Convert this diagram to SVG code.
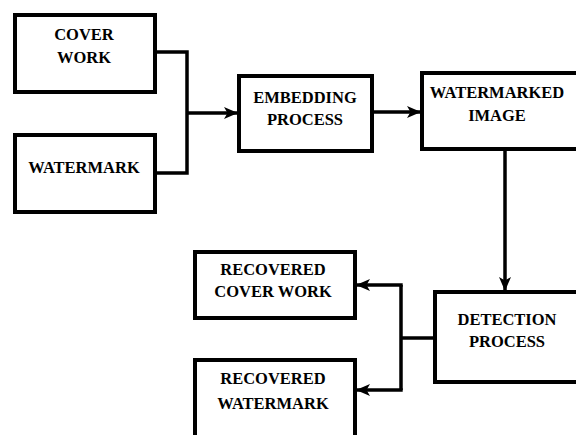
<svg xmlns="http://www.w3.org/2000/svg" width="576" height="435" viewBox="0 0 576 435">
<style>
.box{fill:#fff;stroke:#000;stroke-width:4}
.ln{fill:none;stroke:#000;stroke-width:3.5;stroke-linejoin:miter}
.t{font-family:"Liberation Serif","Times New Roman",serif;font-weight:bold;font-size:16.5px;text-anchor:middle;fill:#000}
</style>
<defs>
<marker id="ah" viewBox="0 0 14 12" refX="14" refY="6" markerWidth="14" markerHeight="12" markerUnits="userSpaceOnUse" orient="auto">
<path d="M0,0 L14,6 L0,12 L3.5,6 Z" fill="#000"/>
</marker>
</defs>
<rect width="576" height="435" fill="#fff"/>
<g id="connectors">
<polyline class="ln" points="155,52 187,52 187,173 155,173"/>
<line class="ln" x1="187" y1="113" x2="238" y2="113" marker-end="url(#ah)"/>
<line class="ln" x1="372" y1="112" x2="421" y2="112" marker-end="url(#ah)"/>
<line class="ln" x1="505" y1="149" x2="505" y2="291" marker-end="url(#ah)"/>
<polyline class="ln" points="435,338 401,338"/>
<polyline class="ln" points="401,285 401,390"/>
<line class="ln" x1="402.7" y1="285" x2="356" y2="285" marker-end="url(#ah)"/>
<line class="ln" x1="402.7" y1="390" x2="356" y2="390" marker-end="url(#ah)"/>
</g>
<g id="cover-work">
<rect class="box" x="15" y="15" width="140" height="77"/>
<text class="t" x="84" y="40">COVER</text>
<text class="t" x="84" y="63">WORK</text>
</g>
<g id="watermark">
<rect class="box" x="15" y="135" width="140" height="77"/>
<text class="t" x="84" y="173">WATERMARK</text>
</g>
<g id="embedding-process">
<rect class="box" x="239" y="76" width="133" height="75"/>
<text class="t" x="305" y="103">EMBEDDING</text>
<text class="t" x="305" y="125">PROCESS</text>
</g>
<g id="watermarked-image">
<rect class="box" x="422" y="73" width="170" height="76"/>
<text class="t" x="497" y="98">WATERMARKED</text>
<text class="t" x="497" y="121">IMAGE</text>
</g>
<g id="detection-process">
<rect class="box" x="435" y="292" width="160" height="90"/>
<text class="t" x="507" y="325">DETECTION</text>
<text class="t" x="507" y="347">PROCESS</text>
</g>
<g id="recovered-cover-work">
<rect class="box" x="195" y="252" width="160" height="66"/>
<text class="t" x="273" y="275">RECOVERED</text>
<text class="t" x="273" y="297">COVER WORK</text>
</g>
<g id="recovered-watermark">
<rect class="box" x="195" y="360" width="160" height="90"/>
<text class="t" x="273" y="384">RECOVERED</text>
<text class="t" x="273" y="409">WATERMARK</text>
</g>
</svg>
